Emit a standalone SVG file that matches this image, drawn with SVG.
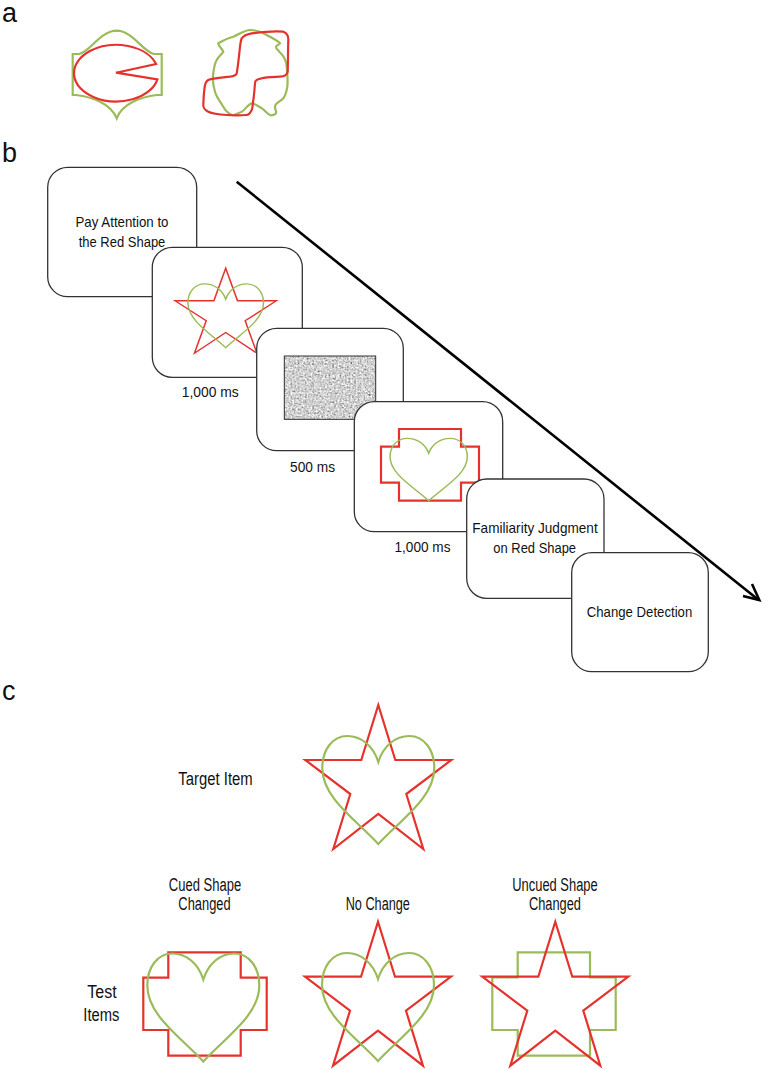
<svg xmlns="http://www.w3.org/2000/svg" xmlns:xlink="http://www.w3.org/1999/xlink" width="762" height="1070" viewBox="0 0 762 1070">
<style>
  .box{fill:#fff;stroke:#333;stroke-width:1.3}
  .t{font-family:"Liberation Sans Narrow","Liberation Sans",Arial,sans-serif;fill:#111;text-anchor:middle}
  .s{font-size:15px}
  .m{font-size:18px}
  .lbl{font-family:"Liberation Sans",Arial,sans-serif;font-size:27px;fill:#111}
  .red{fill:none;stroke:#e5322d;stroke-width:2.2;stroke-linejoin:miter}
  .grn{fill:none;stroke:#9bbb59;stroke-width:2.2}
  .ns{vector-effect:non-scaling-stroke}
</style>
<defs>
  <path id="heart" d="M0,0 C-5,-16 -17,-26 -31,-26 C-46,-26 -56,-12 -56,6 C-56,36 -22,58 0,82 C22,58 56,36 56,6 C56,-12 46,-26 31,-26 C17,-26 5,-16 0,0 Z"/>
  <path id="star" d="M0,0 L17,55 L73,55 L28,89 L45,144 L0,109 L-45,144 L-28,89 L-73,55 L-17,55 Z"/>
  <filter id="noise" x="0" y="0" width="1" height="1" filterUnits="objectBoundingBox">
    <feTurbulence type="fractalNoise" baseFrequency="0.55" numOctaves="2" seed="3" result="t"/>
    <feColorMatrix in="t" type="matrix" values="0.7 0.7 0.7 0 -0.42  0.7 0.7 0.7 0 -0.42  0.7 0.7 0.7 0 -0.42  0 0 0 0 1"/>
  </filter>
</defs>

<!-- panel labels -->
<text class="lbl" x="2" y="22">a</text>
<text class="lbl" x="2" y="162">b</text>
<text class="lbl" x="2" y="700">c</text>

<!-- panel a -->
<g id="panel-a-left">
  <path class="grn" d="M72.7,54 L79,54 C90,52 100,31 116.7,30.7 C133,31 143,52 154,54 L161.7,54 L161.7,95 L157,95 C140,97 122,104 116.7,118.3 C111,104 93,97 76,95 L72.7,95 Z"/>
  <path class="red" stroke-width="1.7" d="M116,72.7 L156.1,64 A42.2,28.3 0 1 0 157.4,79.3 Z"/>
</g>
<g id="panel-a-right">
  <path class="grn" d="M218.3,43.3 C224,40 228,38 233.3,36.7 C240,34 245,30 250,30 C256,30 262,32 266.7,35 C272,38 278,41 280,43.3 C279,45 276,45 276,46.7 C276,49 278,50 279.3,51.7 C284,56 286.5,62 286.7,66.7 C287.5,74 288,80 287.3,86.7 C286.5,92 285,96 283.3,98.3 C280,102 275,103 275,106.7 C275,110 277,112 276,113.3 C274,115.5 271,115.5 270,115 C266,113 264,109 261.7,108.3 C258,106 254,103 251.7,103.3 C248,104 245,110 241.7,111.7 C238,113.5 234,115.5 231.7,115 C228,113 225,110 223.3,106.7 C219,100 216,96 215,91.7 C213,85 212.5,78 213.3,73.3 C214,67 215,63 216.7,60 C218,57 222,54 223.3,51.7 C222,48 218,46 218.3,43.3 Z"/>
  <path class="red" stroke-width="1.7" d="M241.7,38.3 C244,35 248,34 251.7,33.3 C262,32 275,31 283.3,31.7 C287,33 288.5,36 288.3,40 C288,50 288,62 287.7,71.7 C287,75 284,76.5 280,76.7 C274,77 266,77 261.7,78.3 C257,79 255,80 255,83 C254.5,90 254,96 253.3,100 C252.5,106 252.5,109 251.7,110 C250,113.5 248.5,115 246.7,115 C240,115.5 233,115.5 226.7,115 C219,114.5 212,113.5 208.3,111.7 C204,109.5 203.3,108 203.3,105 C203.5,98 204,91 205,85 C206,81 207.5,79.8 210,79.3 C216,78 224,77.5 230,76.7 C234,76 236,75.5 236.7,73.3 C238,66 238.5,60 239.3,53.3 C240,46 240.5,41 241.7,38.3 Z"/>
</g>

<!-- panel b connectors -->
<g id="connectors">
  <line x1="236.7" y1="181.7" x2="758" y2="599.6" stroke="#000" stroke-width="2.6"/>
  <polyline points="743,596 759.3,600 752,584" fill="none" stroke="#000" stroke-width="2.6" stroke-linejoin="miter" stroke-miterlimit="10"/>
</g>

<!-- panel b nodes -->
<g id="box1">
  <rect class="box" x="47.7" y="167.3" width="149" height="129.4" rx="20"/>
  <text class="t s" x="122" y="227.3" textLength="93" lengthAdjust="spacingAndGlyphs">Pay Attention to</text>
  <text class="t s" x="122" y="247.3" textLength="86.7" lengthAdjust="spacingAndGlyphs">the Red Shape</text>
</g>
<g id="box2">
  <rect class="box" x="152.3" y="247.3" width="150" height="130" rx="20"/>
  <use href="#star" xlink:href="#star" class="red ns" transform="translate(225.7,268.3) scale(0.695,0.59)"/>
  <use href="#heart" xlink:href="#heart" class="grn ns" transform="translate(225.7,299.3) scale(0.675,0.59)"/>
  <text class="t s" x="210.3" y="396.7" textLength="57" lengthAdjust="spacingAndGlyphs">1,000 ms</text>
</g>
<g id="box3">
  <rect class="box" x="256.7" y="328.3" width="146.6" height="122.4" rx="20"/>
  <rect x="284.3" y="356" width="91.4" height="63.3" filter="url(#noise)"/>
  <rect x="284.3" y="356" width="91.4" height="63.3" fill="none" stroke="#333" stroke-width="1"/>
  <text class="t s" x="312.5" y="471.7" textLength="45" lengthAdjust="spacingAndGlyphs">500 ms</text>
</g>
<g id="box4">
  <rect class="box" x="354.3" y="401.7" width="148.4" height="130" rx="20"/>
  <path class="red" d="M399,429 L461,429 L461,446.7 L479,446.7 L479,482.7 L461,482.7 L461,500.7 L399,500.7 L399,482.7 L381,482.7 L381,446.7 L399,446.7 Z"/>
  <use href="#heart" xlink:href="#heart" class="grn ns" transform="translate(428.7,453.3) scale(0.69,0.578)"/>
  <text class="t s" x="422.5" y="551.7" textLength="56" lengthAdjust="spacingAndGlyphs">1,000 ms</text>
</g>
<g id="box5">
  <rect class="box" x="466.7" y="479" width="137.3" height="119.3" rx="20"/>
  <text class="t s" x="535" y="533.3" textLength="125.4" lengthAdjust="spacingAndGlyphs">Familiarity Judgment</text>
  <text class="t s" x="534.7" y="552.7" textLength="82.7" lengthAdjust="spacingAndGlyphs">on Red Shape</text>
</g>
<g id="box6">
  <rect class="box" x="571.7" y="552.7" width="136.6" height="119" rx="20"/>
  <text class="t s" x="639.5" y="616.7" textLength="105.6" lengthAdjust="spacingAndGlyphs">Change Detection</text>
</g>

<!-- panel c -->
<g id="target-item">
  <text class="t m" x="215.5" y="785" textLength="74.4" lengthAdjust="spacingAndGlyphs">Target Item</text>
  <use href="#star" xlink:href="#star" class="red" transform="translate(378.3,705)"/>
  <use href="#heart" xlink:href="#heart" class="grn" transform="translate(378.3,762)"/>
</g>
<g id="test-label">
  <text class="t m" x="102" y="998.3" textLength="29.4" lengthAdjust="spacingAndGlyphs">Test</text>
  <text class="t m" x="101.3" y="1020.7" textLength="36" lengthAdjust="spacingAndGlyphs">Items</text>
</g>
<g id="cued-changed">
  <text class="t m" x="205" y="891" textLength="72.3" lengthAdjust="spacingAndGlyphs">Cued Shape</text>
  <text class="t m" x="204.5" y="910" textLength="52.3" lengthAdjust="spacingAndGlyphs">Changed</text>
  <path class="red" d="M168.3,952.3 L240.7,952.3 L240.7,977.7 L266.7,977.7 L266.7,1030 L240.7,1030 L240.7,1055.7 L168.3,1055.7 L168.3,1030 L143.3,1030 L143.3,977.7 L168.3,977.7 Z"/>
  <use href="#heart" xlink:href="#heart" class="grn" transform="translate(203.3,979.5)"/>
</g>
<g id="no-change">
  <text class="t m" x="377.8" y="910" textLength="64.3" lengthAdjust="spacingAndGlyphs">No Change</text>
  <use href="#star" xlink:href="#star" class="red" transform="translate(378,921.7)"/>
  <use href="#heart" xlink:href="#heart" class="grn" transform="translate(378,979)"/>
</g>
<g id="uncued-changed">
  <text class="t m" x="555" y="891" textLength="85.4" lengthAdjust="spacingAndGlyphs">Uncued Shape</text>
  <text class="t m" x="555" y="910" textLength="52" lengthAdjust="spacingAndGlyphs">Changed</text>
  <path class="grn" d="M517.7,952.3 L590,952.3 L590,977.3 L615.7,977.3 L615.7,1030 L590,1030 L590,1055.7 L517.7,1055.7 L517.7,1030 L492.3,1030 L492.3,977.3 L517.7,977.3 Z"/>
  <use href="#star" xlink:href="#star" class="red" transform="translate(555.3,921.7)"/>
</g>
</svg>
